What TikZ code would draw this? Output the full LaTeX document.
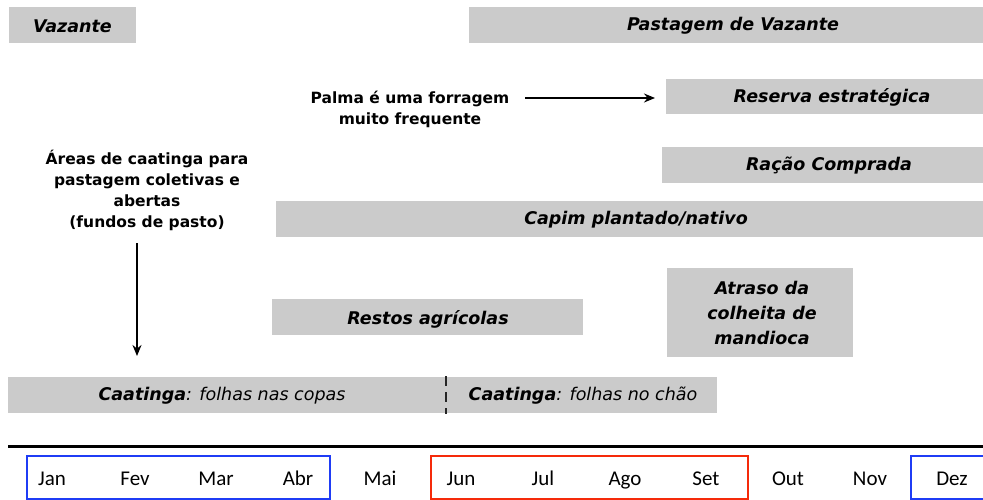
\documentclass[tikz,border=0pt]{standalone}
\usepackage{fontspec}
\setmainfont{DejaVu Sans}
\newfontfamily\monthfont{Carlito}
\usetikzlibrary{arrows.meta}
\definecolor{barfill}{HTML}{CBCBCB}
\definecolor{seasonblue}{HTML}{1F3CF5}
\definecolor{seasonred}{HTML}{F52A0A}
\tikzset{
  bartext/.style={font=\bfseries\itshape\fontsize{17.5}{21}\selectfont, inner sep=0pt},
  cattext/.style={font=\itshape\fontsize{17.5}{21}\selectfont, inner sep=0pt},
  note/.style={align=center, font=\bfseries\fontsize{15.5}{21}\selectfont, inner sep=0pt},
  month/.style={font=\monthfont\fontsize{21}{24}\selectfont, inner sep=0pt, anchor=base},
  arr/.style={-{Stealth[length=11pt,width=9pt]}, line width=1.8pt},
}
\begin{document}
\begin{tikzpicture}[x=1pt,y=-1pt]
\useasboundingbox (0,0) rectangle (983,500);
\fill[white] (0,0) rectangle (983,500);

% activity bars
\fill[barfill] (9,7) rectangle (136,43);
\node[bartext] (vaz) at (72.5,26) {Vazante};
\fill[barfill] (469,7) rectangle (983,43);
\node[bartext] (pvaz) at (733,26) {Pastagem de Vazante};
\fill[barfill] (666,79) rectangle (983,114);
\node[bartext] (res) at (832,97) {Reserva estratégica};
\fill[barfill] (662,147) rectangle (983,183);
\node[bartext] (rac) at (829,166) {Ração Comprada};
\fill[barfill] (276,201) rectangle (983,237);
\node[bartext] (cap) at (636,220) {Capim plantado/nativo};
\fill[barfill] (272,299) rectangle (583,335);
\node[bartext] (rest) at (428,319) {Restos agrícolas};
\fill[barfill] (667,268) rectangle (853,357);
\node[bartext, align=center, font=\bfseries\itshape\fontsize{17.5}{25}\selectfont] (atr) at (762,313) {Atraso da\\colheita de\\mandioca};
\fill[barfill] (8,377) rectangle (446,413);
\node[cattext] (cop) at (222,396) {\textbf{Caatinga}: folhas nas copas};
\fill[barfill] (446,377) rectangle (717,413);
\node[cattext] (chao) at (583,396) {\textbf{Caatinga}: folhas no chão};
\draw[line width=2pt, dashed, dash pattern=on 10pt off 6pt, black!85] (446,376) -- (446,414);

% notes and arrows
\node[note] (palma) at (410,109) {Palma é uma forragem\\muito frequente};
\coordinate (palmastart) at (525,98);
\coordinate (palmaend) at (655,98);
\draw[arr] (palmastart) -- (palmaend);
\node[note] (areas) at (147,190) {Áreas de caatinga para\\pastagem coletivas e\\abertas\\(fundos de pasto)};
\coordinate (areastop) at (137,243);
\coordinate (areasend) at (137,356);
\draw[arr] (areastop) -- (areasend);

% time axis
\draw[line width=3pt] (8,446) -- (983,446);
\draw[seasonblue, line width=2pt] (27,456) rectangle (330,499);
\draw[seasonred, line width=2pt] (431,456) rectangle (748,499);
\draw[seasonblue, line width=2pt] (911,456) rectangle (990,499);
\foreach \m/\x in {Jan/52, Fev/135, Mar/216, Abr/298, Mai/380, Jun/461, Jul/543, Ago/625, Set/706, Out/788, Nov/870, Dez/952}
  \node[month] (m\m) at (\x,485) {\m};
\end{tikzpicture}
\end{document}
